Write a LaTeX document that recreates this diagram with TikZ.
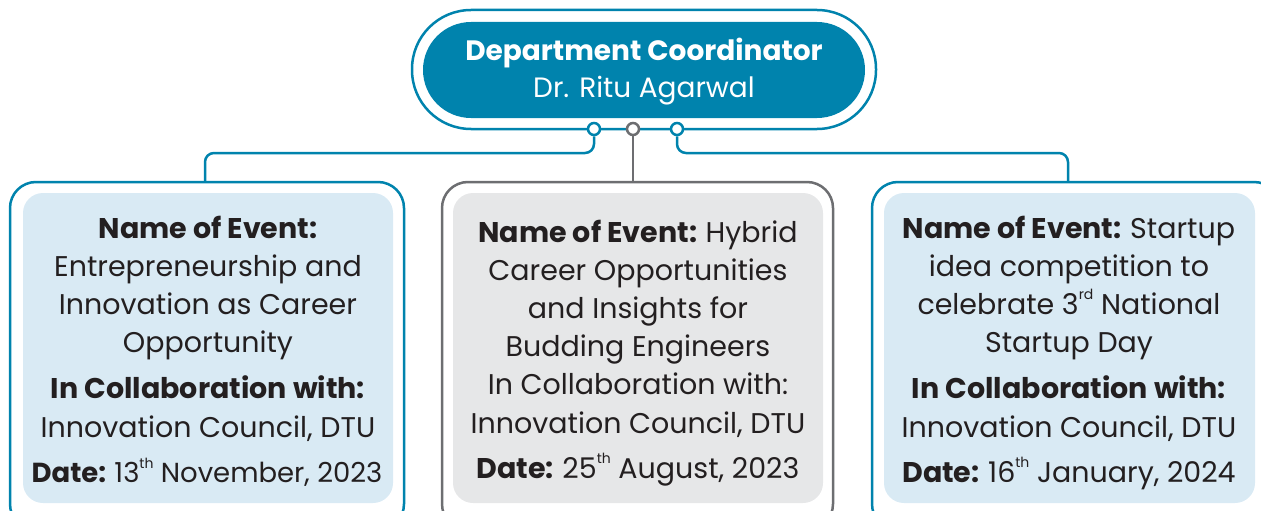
\documentclass[tikz,border=0pt]{standalone}
\usepackage{fontspec}
\setmainfont{Poppins}[Ligatures=NoCommon]
\definecolor{tealb}{HTML}{0083AD}
\definecolor{lblue}{HTML}{D9EAF4}
\definecolor{lgrey}{HTML}{E6E7E8}
\definecolor{dgrey}{HTML}{6D6E71}
\definecolor{ink}{HTML}{231F20}
\newcommand{\sups}[1]{\raisebox{0.5em}{\fontsize{14}{14}\selectfont #1}}
\newcommand{\lbl}[1]{\textbf{#1}\hspace{0.3em}}
\tikzset{
  txt/.style={anchor=base, inner sep=0pt, text=ink, font=\fontsize{28.5}{32}\selectfont},
  toptxt/.style={anchor=base, inner sep=0pt, text=white, font=\fontsize{28}{32}\selectfont},
  conn/.style={line width=2.5pt, rounded corners=9pt},
  dot/.style={circle, draw, line width=2.5pt, fill=white, minimum size=12pt, inner sep=0pt},
}
\begin{document}
\begin{tikzpicture}[x=1pt,y=-1pt]
\useasboundingbox (0,0) rectangle (1261,511);
\clip (0,0) rectangle (1261,511);
% top node
\draw[tealb, line width=2.5pt, rounded corners=59pt] (412,10) rectangle (876,129);
\fill[tealb, rounded corners=48pt] (423,22) rectangle (865,118);
\node[toptxt] (t1) at (644,60) {\textbf{Department Coordinator}};
\node[toptxt] (t2) at (644,97) {Dr. Ritu Agarwal};
% boxes
\draw[tealb, line width=2.5pt, rounded corners=26pt] (10,182) rectangle (404,530);
\fill[lblue, rounded corners=20pt] (23,193) rectangle (393,503);
\draw[dgrey, line width=2.5pt, rounded corners=26pt] (442,182) rectangle (833,530);
\fill[lgrey, rounded corners=20pt] (453,193) rectangle (823,503);
\draw[tealb, line width=2.5pt, rounded corners=26pt] (872,182) rectangle (1280,530);
\fill[lblue, rounded corners=20pt] (884,193) rectangle (1255,503);
\coordinate (bL) at (205,182);
\coordinate (bM) at (633,182);
\coordinate (bR) at (1068,182);
% connectors
\node[dot, draw=tealb] (cL) at (594,129) {};
\node[dot, draw=dgrey] (cM) at (633,129) {};
\node[dot, draw=tealb] (cR) at (677,129) {};
\draw[conn, tealb] (cL.south) -- (594,153) -- (205,153) -- (bL);
\draw[conn, tealb] (cR.south) -- (677,153) -- (1068,153) -- (bR);
\draw[line width=2.5pt, dgrey] (cM.south) -- (bM);
% left text
\node[txt] (a1) at (208,238) {\textbf{Name of Event:}};
\node[txt] (a2) at (208,276) {Entrepreneurship and};
\node[txt] (a3) at (208,314) {Innovation as Career};
\node[txt] (a4) at (208,352) {Opportunity};
\node[txt] (a5) at (208,398) {\textbf{In Collaboration with:}};
\node[txt] (a6) at (208,437) {Innovation Council, DTU};
\node[txt, font=\fontsize{27.5}{32}\selectfont] (a7) at (207,482) {\lbl{Date:}13\sups{th} November, 2023};
% middle text
\node[txt] (b1) at (638,242) {\lbl{Name of Event:}Hybrid};
\node[txt] (b2) at (638,280) {Career Opportunities};
\node[txt] (b3) at (638,318) {and Insights for};
\node[txt] (b4) at (638,356) {Budding Engineers};
\node[txt] (b5) at (638,394) {In Collaboration with:};
\node[txt] (b6) at (638,433) {Innovation Council, DTU};
\node[txt] (b7) at (638,478) {\lbl{Date:}25\sups{th} August, 2023};
% right text
\node[txt] (c1) at (1069,238) {\lbl{Name of Event:}Startup};
\node[txt] (c2) at (1069,276) {idea competition to};
\node[txt] (c3) at (1069,314) {celebrate 3\sups{rd} National};
\node[txt] (c4) at (1069,352) {Startup Day};
\node[txt] (c5) at (1069,398) {\textbf{In Collaboration with:}};
\node[txt] (c6) at (1069,437) {Innovation Council, DTU};
\node[txt] (c7) at (1069,482) {\lbl{Date:}16\sups{th} January, 2024};
\end{tikzpicture}
\end{document}
